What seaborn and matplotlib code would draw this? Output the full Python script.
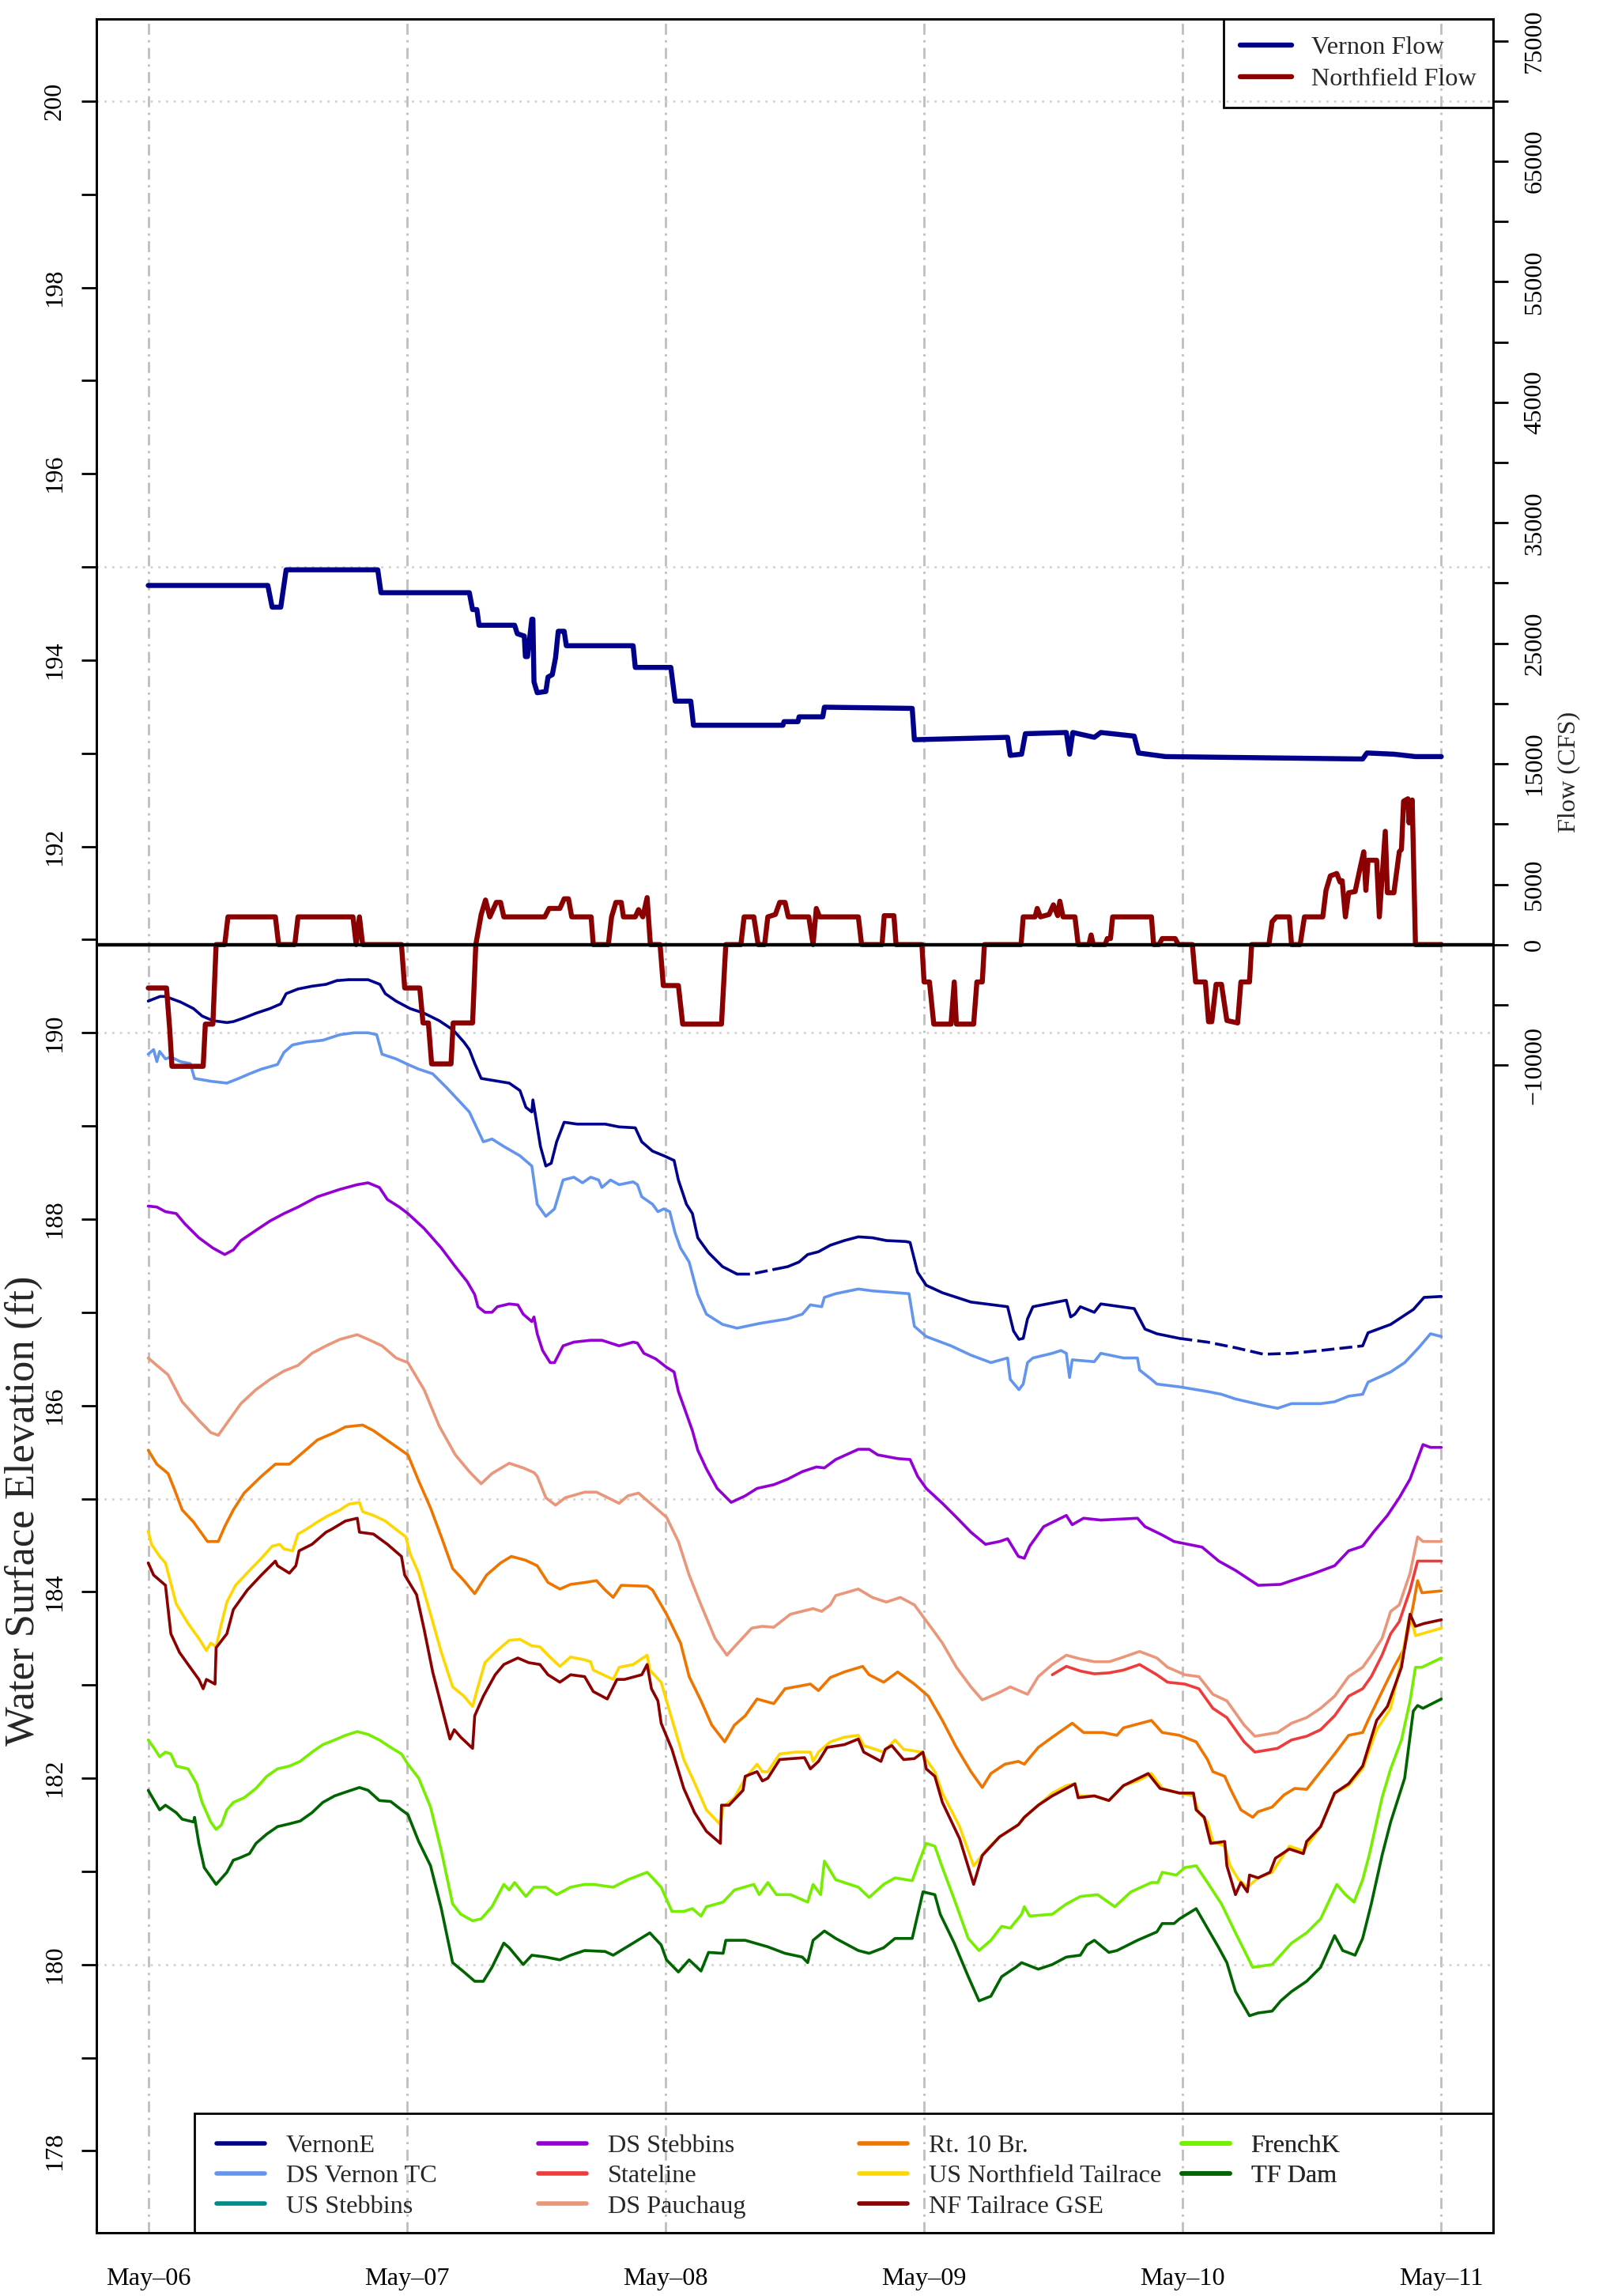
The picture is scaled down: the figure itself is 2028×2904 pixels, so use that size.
import numpy as np
import pandas as pd
import matplotlib
matplotlib.use("Agg")
import matplotlib.pyplot as plt
from matplotlib.lines import Line2D
from matplotlib.patches import Rectangle
import seaborn as sns

# hours after May-06 00:00, water surface elevation (ft)
vernone = [(0, 190.34), (1.1, 190.39), (1.6, 190.39), (3.0, 190.33), (4.2, 190.26), (5.0, 190.18), (6.0, 190.13),
           (7.3, 190.11), (7.9, 190.12), (8.9, 190.16), (10.0, 190.21), (11.3, 190.26), (12.3, 190.31), (12.8, 190.42),
           (13.9, 190.47), (15.2, 190.50), (16.5, 190.52), (17.5, 190.56), (18.6, 190.57), (20.4, 190.57), (21.5, 190.52),
           (22.0, 190.42), (23.0, 190.34), (24.3, 190.26), (25.6, 190.21), (27.0, 190.13), (28.3, 190.03), (29.3, 189.90),
           (29.8, 189.82), (30.3, 189.67), (30.9, 189.51), (33.5, 189.46), (34.5, 189.38), (35.05, 189.20), (35.6, 189.15),
           (35.7, 189.28), (36.4, 188.78), (36.9, 188.57), (37.4, 188.60), (37.9, 188.83), (38.6, 189.04), (39.8, 189.02),
           (42.4, 189.02), (43.7, 188.99), (45.2, 188.98), (45.8, 188.83), (46.8, 188.73), (47.85, 188.68), (48.8, 188.63),
           (49.2, 188.42), (49.95, 188.16), (50.5, 188.06), (51.0, 187.80), (52.0, 187.64), (53.3, 187.49), (54.65, 187.41),
           (55.95, 187.41), (58.05, 187.46), (59.35, 187.49), (60.4, 187.54), (61.2, 187.62), (62.2, 187.65), (63.3, 187.72),
           (64.6, 187.77), (65.9, 187.81), (67.2, 187.80), (68.5, 187.77), (70.3, 187.76), (70.7, 187.75), (71.4, 187.43),
           (72.2, 187.29), (73.7, 187.21), (76.35, 187.11), (79.75, 187.06), (80.3, 186.80), (80.8, 186.71), (81.2, 186.72),
           (81.6, 186.93), (82.1, 187.06), (85.2, 187.13), (85.6, 186.95), (86.0, 186.98), (86.5, 187.06), (87.8, 187.00),
           (88.4, 187.09), (91.5, 187.04), (92.0, 186.93), (92.5, 186.82), (93.6, 186.77), (95.7, 186.72), (98.3, 186.68),
           (100.9, 186.62), (103.5, 186.55), (106.1, 186.56), (108.8, 186.59), (112.7, 186.64), (113.2, 186.78),
           (115.3, 186.87), (117.4, 187.03), (118.4, 187.16), (120, 187.17)]
# stretches where the VernonE record is patchy (drawn broken)
vernone_patchy = [(17.5, 18.6), (54.65, 58.05), (95.7, 112.7)]

ds_vernon_tc = [(0, 189.77), (0.5, 189.82), (0.8, 189.69), (1.06, 189.80), (1.6, 189.72), (2.1, 189.74), (3.0, 189.69),
                (3.9, 189.67), (4.3, 189.51), (5.8, 189.48), (7.3, 189.46), (8.4, 189.51), (9.4, 189.56), (10.5, 189.61),
                (12.0, 189.66), (12.6, 189.79), (13.4, 189.87), (14.65, 189.90), (16.2, 189.92), (17.8, 189.98),
                (19.1, 190.00), (20.4, 190.00), (21.2, 189.98), (21.7, 189.77), (23.0, 189.72), (24.1, 189.66),
                (25.1, 189.61), (26.4, 189.56), (27.7, 189.41), (29.0, 189.25), (29.8, 189.15), (31.1, 188.83),
                (31.9, 188.86), (33.0, 188.78), (34.5, 188.68), (35.6, 188.57), (36.1, 188.16), (36.9, 188.03),
                (37.7, 188.11), (38.5, 188.42), (39.5, 188.45), (40.3, 188.39), (41.06, 188.45), (41.8, 188.42),
                (42.1, 188.34), (42.9, 188.42), (43.7, 188.37), (45.0, 188.40), (45.4, 188.37), (45.8, 188.24),
                (46.8, 188.16), (47.3, 188.08), (47.85, 188.11), (48.4, 188.08), (48.9, 187.85), (49.4, 187.69),
                (50.2, 187.54), (51.0, 187.19), (51.8, 186.98), (53.3, 186.87), (54.65, 186.83), (56.7, 186.88),
                (59.35, 186.93), (60.7, 186.98), (61.45, 187.08), (62.5, 187.06), (62.75, 187.16), (63.8, 187.20),
                (65.9, 187.25), (67.2, 187.23), (70.6, 187.20), (71.1, 186.85), (72.2, 186.74), (74.5, 186.64),
                (76.35, 186.54), (78.2, 186.46), (79.75, 186.51), (80.0, 186.28), (80.8, 186.17), (81.2, 186.23),
                (81.6, 186.46), (82.1, 186.51), (83.9, 186.56), (84.7, 186.59), (85.2, 186.56), (85.5, 186.30),
                (85.75, 186.49), (87.8, 186.47), (88.4, 186.56), (90.5, 186.51), (91.8, 186.51), (92.0, 186.38),
                (93.1, 186.28), (93.6, 186.23), (95.7, 186.20), (98.3, 186.15), (99.6, 186.12), (100.9, 186.07),
                (103.5, 186.00), (104.8, 185.97), (106.1, 186.02), (108.8, 186.02), (110.1, 186.04), (111.4, 186.10),
                (112.7, 186.12), (113.2, 186.25), (115.3, 186.36), (116.6, 186.46), (117.9, 186.62), (119.0, 186.77),
                (120, 186.74)]

us_stebbins = []  # no readings in this period

ds_stebbins = [(0, 188.14), (0.8, 188.13), (1.6, 188.08), (2.6, 188.06), (3.4, 187.95), (4.7, 187.80), (6.0, 187.69),
               (7.1, 187.62), (7.9, 187.67), (8.6, 187.77), (10.0, 187.88), (11.3, 187.98), (12.6, 188.06),
               (13.9, 188.13), (15.7, 188.24), (17.8, 188.32), (19.4, 188.37), (20.4, 188.39), (21.45, 188.34),
               (22.2, 188.21), (23.3, 188.13), (24.1, 188.06), (25.6, 187.90), (27.2, 187.69), (28.5, 187.49),
               (29.6, 187.33), (30.3, 187.19), (30.6, 187.06), (31.25, 187.00), (31.9, 187.00), (32.4, 187.06),
               (33.5, 187.09), (34.3, 187.08), (34.8, 186.98), (35.6, 186.90), (35.8, 186.95), (36.1, 186.77),
               (36.6, 186.59), (37.3, 186.46), (37.7, 186.46), (38.5, 186.64), (39.5, 186.68), (41.05, 186.70),
               (42.1, 186.70), (43.7, 186.64), (45.0, 186.68), (45.4, 186.67), (46.0, 186.56), (47.1, 186.50),
               (48.1, 186.41), (48.8, 186.36), (49.2, 186.15), (49.7, 185.99), (50.5, 185.73), (51.0, 185.52),
               (51.8, 185.32), (52.8, 185.11), (54.1, 184.96), (55.4, 185.03), (56.5, 185.11), (58.05, 185.15),
               (59.35, 185.21), (60.7, 185.29), (62.0, 185.34), (62.75, 185.33), (63.8, 185.42), (65.9, 185.53),
               (66.9, 185.53), (67.7, 185.47), (69.55, 185.43), (70.7, 185.42), (71.4, 185.24), (72.2, 185.11),
               (73.7, 184.95), (75.0, 184.80), (76.35, 184.64), (77.7, 184.51), (79.0, 184.54), (79.75, 184.57),
               (80.75, 184.38), (81.3, 184.36), (81.8, 184.49), (83.1, 184.70), (85.2, 184.82), (85.75, 184.72),
               (86.8, 184.79), (88.4, 184.77), (91.8, 184.79), (92.5, 184.70), (94.1, 184.61), (95.2, 184.54),
               (97.8, 184.48), (99.35, 184.33), (100.9, 184.23), (103.0, 184.07), (105.1, 184.08), (106.1, 184.12),
               (108.0, 184.19), (110.1, 184.28), (111.4, 184.44), (112.7, 184.49), (113.7, 184.64), (115.0, 184.82),
               (116.1, 185.01), (117.1, 185.21), (118.3, 185.58), (119.0, 185.55), (120, 185.55)]

stateline = [(83.9, 183.11), (85.2, 183.20), (86.5, 183.15), (87.8, 183.12), (89.15, 183.13), (90.5, 183.16),
             (92.0, 183.22), (93.6, 183.11), (94.6, 183.03), (96.2, 183.01), (97.5, 182.96), (98.8, 182.75),
             (100.1, 182.65), (101.7, 182.39), (102.7, 182.28), (104.8, 182.32), (106.1, 182.41), (107.5, 182.45),
             (108.8, 182.52), (110.1, 182.67), (111.4, 182.88), (112.7, 182.96), (113.5, 183.09), (114.5, 183.32),
             (115.3, 183.55), (116.1, 183.68), (117.1, 184.02), (117.8, 184.33), (118.3, 184.33), (120, 184.33)]

ds_pauchaug = [(0, 186.51), (0.8, 186.43), (1.84, 186.33), (3.15, 186.04), (4.7, 185.84), (5.8, 185.71), (6.5, 185.68),
               (7.3, 185.81), (8.6, 186.02), (10.0, 186.17), (11.3, 186.28), (12.6, 186.37), (13.9, 186.43),
               (15.2, 186.56), (16.5, 186.64), (17.8, 186.71), (19.4, 186.76), (20.4, 186.71), (21.7, 186.64),
               (23.0, 186.51), (24.1, 186.46), (25.6, 186.17), (27.0, 185.78), (28.5, 185.47), (29.8, 185.29),
               (30.9, 185.16), (31.9, 185.27), (33.5, 185.38), (34.8, 185.33), (35.8, 185.28), (36.1, 185.24),
               (36.9, 185.01), (37.8, 184.93), (38.7, 185.01), (40.5, 185.07), (41.6, 185.07), (43.7, 184.95),
               (44.5, 185.03), (45.5, 185.06), (46.3, 184.98), (47.6, 184.85), (48.1, 184.80), (49.2, 184.54),
               (50.2, 184.18), (51.3, 183.86), (52.6, 183.50), (53.7, 183.32), (54.4, 183.41), (56.0, 183.61),
               (57.0, 183.63), (58.05, 183.62), (59.6, 183.76), (61.7, 183.82), (62.5, 183.79), (63.3, 183.86),
               (63.8, 183.96), (65.9, 184.03), (67.2, 183.94), (68.5, 183.89), (69.8, 183.94), (71.1, 183.86),
               (72.7, 183.61), (73.7, 183.45), (75.0, 183.19), (76.35, 182.98), (77.4, 182.84), (79.0, 182.92),
               (80.0, 182.98), (81.6, 182.90), (82.6, 183.09), (83.9, 183.22), (85.2, 183.32), (86.5, 183.28),
               (87.8, 183.25), (89.2, 183.25), (90.5, 183.30), (92.0, 183.36), (93.6, 183.29), (94.6, 183.19),
               (96.2, 183.11), (97.5, 183.09), (98.8, 182.90), (100.1, 182.83), (101.7, 182.57), (102.7, 182.45),
               (104.8, 182.49), (106.1, 182.59), (107.5, 182.65), (108.8, 182.75), (110.1, 182.88), (111.4, 183.09),
               (112.7, 183.19), (113.5, 183.32), (114.5, 183.50), (115.3, 183.79), (116.1, 183.86), (117.1, 184.20),
               (117.8, 184.59), (118.3, 184.54), (120, 184.54)]

rt10_br = [(0, 185.52), (0.8, 185.37), (1.84, 185.27), (2.4, 185.11), (3.15, 184.88), (4.2, 184.75), (5.5, 184.54),
           (6.5, 184.54), (7.1, 184.70), (7.9, 184.88), (8.9, 185.06), (10.5, 185.24), (11.8, 185.37), (13.1, 185.37),
           (14.1, 185.47), (15.7, 185.63), (17.3, 185.71), (18.3, 185.77), (19.9, 185.79), (20.9, 185.73),
           (22.5, 185.60), (24.1, 185.47), (25.1, 185.19), (26.2, 184.90), (27.2, 184.59), (28.25, 184.25),
           (29.3, 184.12), (30.3, 183.98), (31.4, 184.18), (32.7, 184.31), (33.7, 184.38), (35.0, 184.34),
           (36.1, 184.28), (37.1, 184.10), (38.2, 184.03), (39.2, 184.08), (40.5, 184.10), (41.6, 184.12),
           (42.4, 184.02), (43.15, 183.94), (43.9, 184.07), (46.3, 184.06), (46.8, 184.02), (47.6, 183.86),
           (48.1, 183.76), (49.4, 183.45), (50.2, 183.09), (51.3, 182.83), (52.3, 182.57), (53.5, 182.39),
           (54.4, 182.57), (55.4, 182.67), (56.5, 182.85), (58.05, 182.80), (59.1, 182.96), (61.45, 183.01),
           (62.2, 182.94), (63.3, 183.08), (64.6, 183.14), (66.3, 183.20), (66.9, 183.11), (68.25, 183.03),
           (69.55, 183.14), (71.1, 183.01), (72.4, 182.88), (73.7, 182.62), (75.0, 182.33), (76.35, 182.07),
           (77.4, 181.90), (78.2, 182.05), (79.5, 182.15), (80.75, 182.18), (81.3, 182.15), (82.6, 182.33),
           (83.9, 182.44), (85.75, 182.59), (86.8, 182.49), (88.6, 182.49), (89.9, 182.46), (90.5, 182.54),
           (93.1, 182.62), (94.1, 182.49), (95.7, 182.46), (97.25, 182.39), (98.3, 182.20), (98.8, 182.07),
           (99.9, 182.02), (100.4, 181.89), (101.4, 181.66), (102.5, 181.58), (103.0, 181.64), (104.3, 181.69),
           (105.4, 181.82), (106.4, 181.89), (107.5, 181.88), (108.8, 182.07), (110.1, 182.26), (111.4, 182.46),
           (112.7, 182.49), (113.2, 182.62), (114.5, 182.93), (115.6, 183.19), (116.6, 183.40), (117.4, 183.86),
           (117.8, 184.12), (118.2, 183.99), (120, 184.01)]

us_nf_tailrace = [(0, 184.65), (0.3, 184.51), (1.06, 184.38), (1.6, 184.31), (2.6, 183.87), (3.7, 183.66),
                  (4.7, 183.50), (5.4, 183.37), (5.8, 183.45), (6.3, 183.41), (6.8, 183.66), (7.3, 183.89),
                  (8.1, 184.07), (9.4, 184.23), (10.5, 184.36), (11.5, 184.49), (12.2, 184.51), (12.6, 184.46),
                  (13.4, 184.44), (13.9, 184.62), (14.65, 184.67), (15.7, 184.75), (16.75, 184.82), (17.8, 184.88),
                  (18.6, 184.94), (19.6, 184.96), (19.9, 184.86), (20.9, 184.82), (22.0, 184.76), (23.0, 184.67),
                  (23.9, 184.59), (24.3, 184.41), (25.1, 184.20), (26.2, 183.76), (27.2, 183.35), (28.25, 182.98),
                  (29.3, 182.88), (30.1, 182.77), (30.6, 182.98), (31.25, 183.24), (32.2, 183.35), (33.5, 183.48),
                  (34.5, 183.49), (35.6, 183.42), (36.35, 183.41), (37.1, 183.32), (38.2, 183.20), (39.2, 183.30),
                  (40.5, 183.27), (41.05, 183.25), (41.3, 183.16), (43.15, 183.06), (43.7, 183.19), (45.0, 183.22),
                  (46.3, 183.32), (46.55, 183.16), (47.6, 183.03), (48.1, 182.83), (49.7, 182.20), (50.7, 181.95),
                  (51.8, 181.66), (53.1, 181.50), (53.35, 181.69), (54.4, 181.79), (55.4, 182.00), (56.5, 182.15),
                  (57.0, 182.07), (57.5, 182.07), (58.6, 182.26), (60.1, 182.28), (61.45, 182.28), (61.7, 182.18),
                  (62.2, 182.28), (63.3, 182.39), (64.6, 182.44), (65.9, 182.46), (66.4, 182.35), (68.25, 182.28),
                  (69.3, 182.41), (70.1, 182.31), (71.8, 182.28), (72.2, 182.20), (73.0, 182.07), (73.7, 181.84),
                  (75.3, 181.48), (76.6, 181.06), (77.7, 181.22), (79.0, 181.37), (80.75, 181.50), (81.3, 181.58),
                  (82.6, 181.71), (83.9, 181.84), (85.2, 181.92), (86.0, 181.94), (86.3, 181.81), (87.8, 181.81),
                  (89.15, 181.76), (90.5, 181.92), (91.8, 181.97), (93.1, 182.05), (93.6, 181.97), (94.1, 181.89),
                  (95.7, 181.84), (97.0, 181.81), (97.5, 181.63), (98.3, 181.53), (98.8, 181.32), (99.9, 181.27),
                  (100.4, 181.06), (101.2, 180.91), (102.0, 180.83), (103.0, 180.93), (104.3, 180.99), (105.9, 181.27),
                  (107.2, 181.22), (108.8, 181.48), (110.1, 181.84), (111.4, 181.92), (112.7, 182.10), (114.0, 182.52),
                  (115.3, 182.75), (116.3, 183.27), (117.1, 183.76), (117.6, 183.53), (118.2, 183.55), (120, 183.61)]

nf_tailrace_gse = [(0, 184.31), (0.5, 184.18), (1.6, 184.07), (2.1, 183.55), (2.9, 183.35), (3.7, 183.22),
                   (4.7, 183.06), (5.1, 182.96), (5.4, 183.06), (6.2, 183.01), (6.3, 183.40), (7.3, 183.55),
                   (7.9, 183.81), (9.2, 184.02), (10.5, 184.18), (11.8, 184.33), (12.0, 184.28), (13.1, 184.20),
                   (13.7, 184.28), (14.0, 184.44), (15.2, 184.51), (16.5, 184.64), (17.0, 184.67), (18.3, 184.76),
                   (19.4, 184.79), (19.6, 184.64), (20.9, 184.62), (22.2, 184.51), (23.5, 184.38), (23.8, 184.18),
                   (24.9, 183.97), (25.6, 183.60), (26.4, 183.14), (27.2, 182.78), (28.0, 182.42), (28.4, 182.52),
                   (29.0, 182.44), (30.1, 182.32), (30.3, 182.67), (31.1, 182.88), (32.2, 183.11), (33.0, 183.22),
                   (34.3, 183.29), (35.3, 183.24), (36.35, 183.22), (37.1, 183.11), (38.2, 183.03), (39.2, 183.11),
                   (40.5, 183.09), (41.3, 182.93), (42.6, 182.85), (43.5, 183.06), (44.2, 183.06), (45.8, 183.11),
                   (46.3, 183.22), (46.7, 182.96), (47.3, 182.83), (47.6, 182.59), (48.6, 182.31), (49.7, 181.89),
                   (50.7, 181.63), (51.8, 181.43), (53.1, 181.30), (53.2, 181.71), (53.9, 181.71), (55.2, 181.87),
                   (55.4, 182.02), (56.5, 182.07), (57.0, 181.97), (57.5, 182.00), (58.6, 182.20), (60.9, 182.22),
                   (61.45, 182.10), (62.2, 182.18), (63.0, 182.33), (64.6, 182.36), (65.9, 182.42), (66.4, 182.28),
                   (68.0, 182.18), (68.4, 182.31), (69.0, 182.35), (70.1, 182.20), (71.1, 182.21), (71.9, 182.28),
                   (72.2, 182.10), (73.0, 182.02), (73.7, 181.74), (75.3, 181.35), (76.6, 180.86), (77.4, 181.17),
                   (79.0, 181.37), (80.75, 181.50), (81.3, 181.58), (82.6, 181.71), (83.9, 181.81), (85.2, 181.89),
                   (86.0, 181.94), (86.3, 181.79), (87.8, 181.81), (89.15, 181.76), (90.5, 181.92), (92.8, 182.05),
                   (93.9, 181.89), (95.7, 181.84), (97.0, 181.84), (97.25, 181.66), (98.0, 181.58), (98.6, 181.30),
                   (99.9, 181.32), (100.1, 181.06), (100.9, 180.75), (101.4, 180.88), (102.0, 180.78), (102.2, 180.96),
                   (103.0, 180.93), (104.1, 180.99), (104.6, 181.14), (105.9, 181.24), (107.2, 181.19), (107.5, 181.32),
                   (108.8, 181.48), (110.1, 181.84), (111.4, 181.94), (112.7, 182.13), (114.0, 182.62), (115.0, 182.77),
                   (116.3, 183.19), (117.1, 183.76), (117.6, 183.63), (118.4, 183.66), (120, 183.70)]

frenchk = [(0, 182.41), (0.5, 182.33), (1.06, 182.23), (1.6, 182.28), (2.1, 182.26), (2.6, 182.13), (3.7, 182.10),
           (4.5, 181.94), (5.0, 181.74), (5.8, 181.53), (6.3, 181.45), (6.8, 181.50), (7.3, 181.66), (7.9, 181.74),
           (8.9, 181.79), (10.0, 181.89), (11.0, 182.02), (12.0, 182.10), (13.1, 182.13), (14.1, 182.18),
           (15.2, 182.28), (16.2, 182.36), (17.3, 182.41), (18.3, 182.46), (19.4, 182.50), (20.4, 182.47),
           (21.45, 182.41), (22.5, 182.33), (23.5, 182.26), (24.1, 182.15), (25.1, 182.00), (26.2, 181.69),
           (27.2, 181.22), (28.25, 180.65), (29.0, 180.54), (30.1, 180.47), (30.9, 180.49), (31.9, 180.62),
           (33.0, 180.86), (33.5, 180.80), (34.0, 180.88), (35.05, 180.73), (35.8, 180.83), (36.9, 180.83),
           (37.9, 180.75), (39.2, 180.83), (40.5, 180.86), (41.3, 180.86), (43.15, 180.83), (44.5, 180.91),
           (46.3, 180.99), (46.8, 180.93), (47.6, 180.83), (48.6, 180.57), (49.7, 180.57), (50.5, 180.60),
           (51.3, 180.52), (51.8, 180.62), (53.35, 180.67), (54.4, 180.80), (56.2, 180.86), (56.7, 180.75),
           (57.5, 180.88), (58.3, 180.75), (59.6, 180.75), (61.2, 180.67), (61.7, 180.86), (62.4, 180.75),
           (62.75, 181.11), (63.8, 180.91), (65.9, 180.83), (66.9, 180.72), (68.25, 180.86), (69.3, 180.93),
           (70.9, 180.90), (71.4, 181.06), (72.2, 181.30), (73.0, 181.27), (73.7, 181.04), (74.8, 180.70),
           (76.1, 180.28), (77.1, 180.15), (78.2, 180.26), (79.2, 180.41), (80.0, 180.39), (81.05, 180.54),
           (81.3, 180.62), (81.8, 180.52), (83.9, 180.54), (85.2, 180.65), (86.5, 180.73), (88.1, 180.75),
           (89.7, 180.62), (91.2, 180.78), (93.1, 180.88), (93.7, 180.88), (94.1, 180.99), (95.4, 180.96),
           (96.2, 181.04), (97.25, 181.06), (98.3, 180.88), (99.6, 180.65), (100.9, 180.34), (102.5, 179.97),
           (104.3, 180.00), (106.1, 180.23), (107.5, 180.34), (108.8, 180.49), (110.3, 180.86), (111.1, 180.75),
           (111.9, 180.67), (112.7, 180.91), (113.3, 181.17), (114.5, 181.79), (115.3, 182.10), (116.3, 182.41),
           (117.1, 182.83), (117.6, 183.19), (118.2, 183.19), (120, 183.29)]

tf_dam = [(0, 181.87), (1.06, 181.66), (1.6, 181.71), (2.6, 181.63), (3.15, 181.56), (4.2, 181.53), (4.3, 181.58),
          (4.7, 181.30), (5.2, 181.04), (6.3, 180.86), (7.3, 180.99), (7.9, 181.12), (8.4, 181.14), (9.4, 181.19),
          (10.0, 181.30), (11.0, 181.40), (12.0, 181.48), (13.1, 181.51), (14.1, 181.54), (15.2, 181.63),
          (16.2, 181.74), (17.3, 181.81), (18.3, 181.85), (19.6, 181.90), (20.4, 181.87), (21.45, 181.76),
          (22.5, 181.75), (23.5, 181.66), (24.1, 181.61), (25.1, 181.32), (26.2, 181.06), (27.2, 180.60),
          (28.25, 180.02), (29.3, 179.92), (30.3, 179.82), (31.1, 179.82), (31.9, 179.97), (33.0, 180.23),
          (33.5, 180.18), (34.8, 180.00), (35.6, 180.10), (36.9, 180.08), (38.2, 180.05), (39.2, 180.10),
          (40.5, 180.15), (42.4, 180.14), (43.15, 180.10), (45.0, 180.23), (46.55, 180.34), (47.6, 180.21),
          (48.1, 180.05), (49.2, 179.92), (50.2, 180.05), (51.3, 179.93), (52.0, 180.13), (53.35, 180.12),
          (53.6, 180.26), (55.4, 180.26), (57.5, 180.19), (59.1, 180.12), (60.7, 180.08), (61.2, 180.02),
          (61.7, 180.26), (62.75, 180.36), (63.8, 180.28), (65.9, 180.15), (66.9, 180.12), (68.25, 180.18),
          (69.3, 180.28), (70.9, 180.28), (71.9, 180.78), (73.0, 180.75), (73.5, 180.54), (74.8, 180.23),
          (76.1, 179.87), (77.1, 179.61), (78.2, 179.66), (79.2, 179.87), (80.5, 179.97), (81.05, 180.02),
          (82.6, 179.95), (83.9, 180.00), (85.2, 180.08), (86.5, 180.10), (87.1, 180.21), (87.8, 180.26),
          (89.15, 180.13), (89.9, 180.15), (91.8, 180.26), (93.6, 180.35), (94.1, 180.44), (95.2, 180.44),
          (95.7, 180.49), (97.25, 180.60), (98.3, 180.39), (99.35, 180.18), (100.1, 180.02), (100.9, 179.71),
          (102.2, 179.45), (103.0, 179.48), (104.3, 179.50), (105.1, 179.61), (106.1, 179.71), (107.5, 179.82),
          (108.8, 179.97), (110.1, 180.31), (110.85, 180.15), (112.0, 180.10), (112.7, 180.28), (113.5, 180.65),
          (114.5, 181.17), (115.3, 181.53), (116.6, 182.00), (117.4, 182.72), (117.8, 182.78), (118.3, 182.75),
          (120, 182.85)]

# flows (hours, cfs)
vernon_flow = [(0, 29800), (11.1, 29800), (11.5, 28000), (12.3, 28000), (12.8, 31100), (21.3, 31100), (21.6, 29200),
               (29.8, 29200), (30.1, 27800), (30.5, 27800), (30.7, 26500), (34.0, 26500), (34.25, 25800),
               (34.9, 25600), (35.0, 23900), (35.2, 23900), (35.6, 27000), (35.7, 27000), (35.8, 21800),
               (36.1, 20900), (36.9, 21000), (37.1, 22200), (37.5, 22400), (37.8, 23800), (38.05, 26000),
               (38.6, 26000), (38.8, 24800), (45.0, 24800), (45.2, 23000), (48.5, 23000), (48.9, 20200),
               (50.35, 20200), (50.6, 18200), (58.9, 18200), (59.0, 18500), (60.3, 18500), (60.4, 18900),
               (62.6, 18900), (62.75, 19700), (70.9, 19600), (71.1, 17000), (79.75, 17200), (80.0, 15700),
               (81.05, 15800), (81.4, 17500), (85.2, 17600), (85.5, 15800), (85.8, 17600), (87.8, 17200),
               (88.4, 17600), (91.5, 17300), (91.9, 15900), (94.4, 15600), (112.7, 15400), (113.1, 15900),
               (115.6, 15800), (117.6, 15600), (120, 15600)]

northfield_flow = [(0, -3600), (1.7, -3600), (2.0, -7100), (2.2, -10100), (5.1, -10100), (5.3, -6600), (6.0, -6600),
                   (6.3, 0), (7.1, 0), (7.4, 2300), (11.8, 2300), (12.1, 0), (13.6, 0), (13.9, 2300), (19.0, 2300),
                   (19.3, 0), (19.6, 2300), (19.9, 0), (23.5, 0), (23.8, -3600), (25.2, -3600), (25.5, -6500),
                   (26.0, -6500), (26.3, -9900), (28.1, -9900), (28.3, -6500), (30.1, -6500), (30.4, 0), (30.9, 2500),
                   (31.3, 3700), (31.7, 2300), (32.3, 3500), (32.7, 3500), (33.0, 2300), (36.8, 2300), (37.2, 3000),
                   (38.2, 3000), (38.6, 3800), (39.0, 3800), (39.3, 2300), (41.1, 2300), (41.3, 0), (42.7, 0),
                   (43.0, 2300), (43.4, 3500), (43.9, 3500), (44.1, 2300), (45.2, 2300), (45.5, 2900), (45.9, 2300),
                   (46.3, 3900), (46.6, 0), (47.5, 0), (47.8, -3400), (49.2, -3400), (49.6, -6600), (53.2, -6600),
                   (53.6, 0), (55.0, 0), (55.3, 2300), (56.2, 2300), (56.6, 0), (57.2, 0), (57.5, 2300), (58.2, 2500),
                   (58.6, 3500), (59.1, 3500), (59.4, 2300), (61.3, 2300), (61.7, 0), (62.0, 3000), (62.3, 2300),
                   (65.9, 2300), (66.2, 0), (68.1, 0), (68.3, 2400), (69.2, 2400), (69.4, 0), (71.8, 0),
                   (72.0, -3100), (72.5, -3100), (72.9, -6600), (74.5, -6600), (74.8, -3100), (75.0, -6600),
                   (76.6, -6600), (76.9, -3100), (77.4, -3100), (77.6, 0), (81.0, 0), (81.2, 2300), (82.3, 2300),
                   (82.5, 3000), (82.8, 2300), (83.6, 2500), (84.0, 3300), (84.4, 2400), (84.6, 3600), (84.9, 2300),
                   (86.0, 2300), (86.3, 0), (87.3, 0), (87.5, 800), (87.7, 0), (88.8, 0), (89.0, 500), (89.3, 500),
                   (89.5, 2300), (93.1, 2300), (93.3, 0), (93.8, 0), (94.1, 500), (95.3, 500), (95.6, 0), (96.9, 0),
                   (97.2, -3100), (98.1, -3100), (98.4, -6400), (98.7, -6400), (99.1, -3300), (99.6, -3300),
                   (100.1, -6300), (101.1, -6500), (101.4, -3100), (102.2, -3100), (102.4, 0), (104.0, 0),
                   (104.3, 1900), (104.7, 2300), (105.9, 2300), (106.1, 0), (106.9, 0), (107.3, 2300), (109.0, 2300),
                   (109.3, 4500), (109.7, 5700), (110.3, 5900), (110.6, 5200), (110.8, 5300), (111.1, 2300),
                   (111.4, 4300), (112.0, 4400), (112.5, 6500), (112.8, 7700), (113.0, 4500), (113.2, 7000),
                   (114.0, 7000), (114.25, 2300), (114.8, 9400), (115.0, 4300), (115.6, 4300), (116.1, 7700),
                   (116.3, 7900), (116.5, 11900), (116.9, 12100), (117.0, 10100), (117.3, 12000), (117.6, 0), (120, 0)]

site_names = ["VernonE", "DS Vernon TC", "US Stebbins", "DS Stebbins", "Stateline", "DS Pauchaug",
              "Rt. 10 Br.", "US Northfield Tailrace", "NF Tailrace GSE", "FrenchK", "TF Dam"]
site_series = [vernone, ds_vernon_tc, us_stebbins, ds_stebbins, stateline, ds_pauchaug,
               rt10_br, us_nf_tailrace, nf_tailrace_gse, frenchk, tf_dam]
site_colors = ["#00008B", "#6495ED", "#008B8B", "#9400D3", "#EE3B3B", "#E9967A",
               "#EE7600", "#FFD700", "#8B0000", "#76EE00", "#006400"]
flow_names = ["Vernon Flow", "Northfield Flow"]
flow_colors = ["#00008B", "#8B0000"]

date_labels = ["May\u201306", "May\u201307", "May\u201308", "May\u201309", "May\u201310", "May\u201311"]
flow_ticks = list(range(-10000, 75001, 5000))
flow_labeled = [75000, 65000, 55000, 45000, 35000, 25000, 15000, 5000, 0, -10000]

FS = 11.6


def main():
    sns.set_theme(style="white")
    plt.rcParams["font.family"] = ["Liberation Serif", "DejaVu Serif"]
    plt.rcParams["axes.unicode_minus"] = True

    # long table; VernonE split into solid pieces around its patchy stretches
    frames, patchy = [], []
    for name, pts in zip(site_names, site_series):
        if not pts:
            continue
        arr = np.array(pts, dtype=float)
        hrs, vals = arr[:, 0], arr[:, 1]
        seg = np.zeros(len(hrs), dtype=int)
        keep = np.ones(len(hrs), dtype=bool)
        if name == "VernonE":
            for k, (lo, hi) in enumerate(vernone_patchy):
                inside = (hrs > lo) & (hrs < hi)
                keep &= ~inside
                seg[hrs >= hi] = k + 1
                sel = (hrs >= lo) & (hrs <= hi)
                patchy.append(pd.DataFrame({"day": hrs[sel] / 24.0, "wse": vals[sel]}))
        frames.append(pd.DataFrame({"day": hrs[keep] / 24.0, "wse": vals[keep], "site": name,
                                    "seg": [f"{name}-{s}" for s in seg[keep]]}))
    wse = pd.concat(frames, ignore_index=True)
    palette = dict(zip(site_names, site_colors))

    fig = plt.figure(figsize=(10.14, 14.52), dpi=200)
    ax = fig.add_axes([0.0602, 0.0275, 0.8712, 0.9642])

    # grid
    for d in range(len(date_labels)):
        ax.axvline(d, color="#BEBEBE", lw=1.0, ls=(0, (5, 2.5, 1, 2.5)), zorder=0)
    for v in range(180, 201, 5):
        ax.axhline(v, color="#D3D3D3", lw=1.0, ls=(0, (1, 2.5)), zorder=0)

    sns.lineplot(data=wse, x="day", y="wse", hue="site", units="seg", palette=palette, estimator=None,
                 lw=1.3, legend=False, ax=ax)
    for piece in patchy:
        sns.lineplot(data=piece, x="day", y="wse", color=site_colors[0], lw=1.3, estimator=None,
                     linestyle=(0, (4.5, 1.8)), ax=ax)

    ax.set_xlim(-0.2, 5.2)
    ax.set_ylim(177.12, 200.88)
    ax.set_xticks(range(len(date_labels)))
    ax.set_xticklabels(date_labels)
    ax.set_yticks(range(178, 201))
    ax.set_yticklabels([str(v) if v % 2 == 0 else "" for v in range(178, 201)])
    ax.set_xlabel("")
    ax.set_ylabel("")
    ax.tick_params(axis="both", direction="out", length=6.8, width=1.0, colors="black", labelsize=FS)
    ax.tick_params(axis="x", pad=9)
    ax.tick_params(axis="y", pad=7, labelrotation=90)
    for t in ax.get_yticklabels():
        t.set_va("center")

    # flows on the right axis
    ax2 = ax.twinx()
    for pts, col in zip([vernon_flow, northfield_flow], flow_colors):
        arr = np.array(pts, dtype=float)
        sns.lineplot(x=arr[:, 0] / 24.0, y=arr[:, 1], color=col, lw=2.3, estimator=None, sort=False,
                     ax=ax2, legend=False)
    ax2.axhline(0, color="black", lw=1.6, zorder=5)
    ax2.set_ylim(-106900, 76800)
    ax2.set_xlim(-0.2, 5.2)
    ax2.set_yticks(flow_ticks)
    ax2.set_yticklabels([("\u2212" + str(-v) if v < 0 else str(v)) if v in flow_labeled else "" for v in flow_ticks])
    ax2.tick_params(axis="y", direction="out", length=6.8, width=1.0, colors="black", labelsize=FS,
                    pad=7, labelrotation=90)
    for t in ax2.get_yticklabels():
        t.set_va("center")
    ax2.set_ylabel("")

    for a in (ax, ax2):
        for s in a.spines.values():
            s.set_color("black")
            s.set_linewidth(1.0)

    # flow legend, top right
    fh = [Line2D([], [], color=c, lw=2.3) for c in flow_colors]
    leg1 = ax2.legend(fh, flow_names, loc="upper right", bbox_to_anchor=(1, 1), borderaxespad=0,
                      fancybox=False, edgecolor="black", facecolor="none", framealpha=1, fontsize=FS,
                      handlelength=2.0, handletextpad=0.78, borderpad=0.66, labelspacing=0.33)
    leg1.get_frame().set_linewidth(1.0)
    ax2.add_artist(leg1)

    # site legend, bottom: equal width columns like the original
    ax2.add_patch(Rectangle((0.0702, 0), 0.9298, 0.0539, transform=ax2.transAxes, fill=False,
                            ec="black", lw=1.0, clip_on=False, zorder=6))
    col_x = [0.086, 0.3164, 0.5461, 0.777]
    for i, x0 in enumerate(col_x):
        idx = list(range(i * 3, min(i * 3 + 3, len(site_names))))
        hs = [Line2D([], [], color=site_colors[j], lw=2.0) for j in idx]
        leg = ax2.legend(hs, [site_names[j] for j in idx], loc="upper left", bbox_to_anchor=(x0, 0.0445),
                         frameon=False, borderpad=0, borderaxespad=0, fontsize=FS, handlelength=1.9,
                         handletextpad=0.82, labelspacing=0.27)
        ax2.add_artist(leg)

    fig.text(30 / 2028, 1 - 1911 / 2904, "Water Surface Elevation (ft)", rotation=90,
             ha="center", va="center", fontsize=19)
    fig.text(1985 / 2028, 1 - 976 / 2904, "Flow (CFS)", rotation=90, ha="center", va="center", fontsize=FS)

    fig.savefig("out.png", dpi=200)
    plt.close(fig)


if __name__ == "__main__":
    main()
